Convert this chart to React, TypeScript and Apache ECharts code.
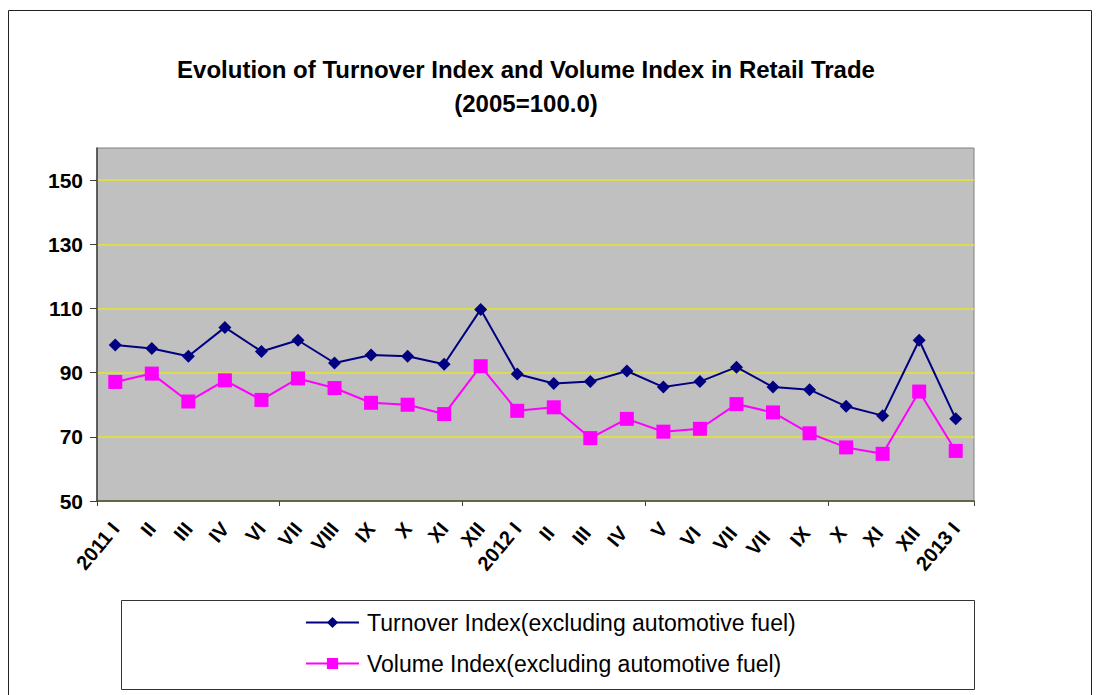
import React, { useEffect, useRef } from "react";
import * as echarts from "echarts";

const categories = [
  "2011 I", "II", "III", "IV", "VI", "VII", "VIII", "IX", "X", "XI", "XII",
  "2012 I", "II ", "III ", "IV ", "V", "VI ", "VII ", "VII  ", "IX ", "X ", "XI ", "XII ",
  "2013 I",
];

const turnoverIndex = [
  98.6, 97.5, 95.1, 104.1, 96.6, 100.1, 93.0, 95.5, 95.1, 92.6, 109.7,
  89.6, 86.6, 87.2, 90.5, 85.5, 87.2, 91.7, 85.5, 84.7, 79.5, 76.6, 100.1,
  75.6,
];

const volumeIndex = [
  87.1, 89.7, 81.0, 87.6, 81.5, 88.2, 85.2, 80.6, 80.0, 77.1, 92.0,
  78.1, 79.2, 69.6, 75.6, 71.6, 72.5, 80.2, 77.6, 71.1, 66.7, 64.7, 84.1,
  65.6,
];

const yTicks = [50, 70, 90, 110, 130, 150];

const titleLine1 = "Evolution of Turnover Index and Volume Index in Retail Trade";
const titleLine2 = "(2005=100.0)";
const seriesNames = [
  "Turnover Index(excluding automotive fuel)",
  "Volume Index(excluding automotive fuel)",
];

const FONT = "Arial, 'Liberation Sans', sans-serif";

export default function App() {
  const ref = useRef<HTMLDivElement>(null);
  useEffect(() => {
    document.body.style.margin = "0";
    const chart = echarts.init(ref.current!, null, { renderer: "svg" });
    chart.setOption({
      animation: false,
      backgroundColor: "#ffffff",
      textStyle: { fontFamily: FONT },
      graphic: [
        {
          type: "rect",
          shape: { x: 8.5, y: 10.5, width: 1083, height: 700 },
          style: { fill: "none", stroke: "#222", lineWidth: 1 },
          silent: true,
          z: -10,
        },
        {
          type: "rect",
          shape: { x: 121.5, y: 600.5, width: 853, height: 89 },
          style: { fill: "#fff", stroke: "#333", lineWidth: 1 },
          silent: true,
          z: -5,
        },
        {
          type: "text",
          x: 526,
          y: 69,
          style: {
            text: titleLine1,
            fontFamily: FONT,
            fontSize: 24,
            fontWeight: "bold",
            fill: "#000",
            textAlign: "center",
            textVerticalAlign: "middle",
          },
        },
        {
          type: "text",
          x: 526,
          y: 103,
          style: {
            text: titleLine2,
            fontFamily: FONT,
            fontSize: 24,
            fontWeight: "bold",
            fill: "#000",
            textAlign: "center",
            textVerticalAlign: "middle",
          },
        },
      ],
      grid: {
        left: 97,
        top: 148,
        right: 122,
        bottom: 194,
        show: true,
        backgroundColor: "#c0c0c0",
        borderColor: "#808080",
        borderWidth: 1,
      },
      legend: {
        orient: "vertical",
        left: 300,
        top: 606,
        itemWidth: 53,
        itemHeight: 14,
        itemGap: 18,
        data: seriesNames,
        textStyle: {
          fontFamily: FONT,
          fontSize: 23,
          color: "#000",
          padding: [0, 0, 0, 3],
        },
      },
      xAxis: {
        type: "category",
        data: categories,
        boundaryGap: true,
        axisLine: { lineStyle: { color: "#404040", width: 1.5 } },
        axisTick: {
          show: true,
          interval: (index: number) => index % 5 === 0,
          length: 5,
          lineStyle: { color: "#404040" },
        },
        axisLabel: {
          interval: 0,
          rotate: 50,
          margin: 24,
          fontFamily: FONT,
          fontSize: 20,
          fontWeight: "bold",
          color: "#000",
        },
        splitLine: { show: false },
      },
      yAxis: {
        type: "value",
        min: 50,
        max: 160,
        axisLine: { show: true, lineStyle: { color: "#404040", width: 1.5 } },
        axisTick: {
          show: true,
          length: 7,
          customValues: yTicks,
          lineStyle: { color: "#404040" },
        },
        axisLabel: {
          customValues: yTicks,
          margin: 14,
          fontFamily: FONT,
          fontSize: 21,
          fontWeight: "bold",
          color: "#000",
        },
        splitLine: {
          show: true,
          lineStyle: { color: "#e6e62a", width: 1.5 },
        },
      },
      series: [
        {
          name: seriesNames[0],
          type: "line",
          data: turnoverIndex,
          symbol: "diamond",
          symbolSize: 13,
          itemStyle: { color: "#000080" },
          lineStyle: { color: "#000080", width: 2 },
          z: 3,
        },
        {
          name: seriesNames[1],
          type: "line",
          data: volumeIndex,
          symbol: "rect",
          symbolSize: 14,
          itemStyle: { color: "#ff00ff" },
          lineStyle: { color: "#ff00ff", width: 2 },
          z: 2,
        },
      ],
    });
    return () => chart.dispose();
  }, []);
  return (
    <div
      ref={ref}
      style={{ position: "absolute", left: 0, top: 0, width: 1096, height: 695 }}
    />
  );
}
